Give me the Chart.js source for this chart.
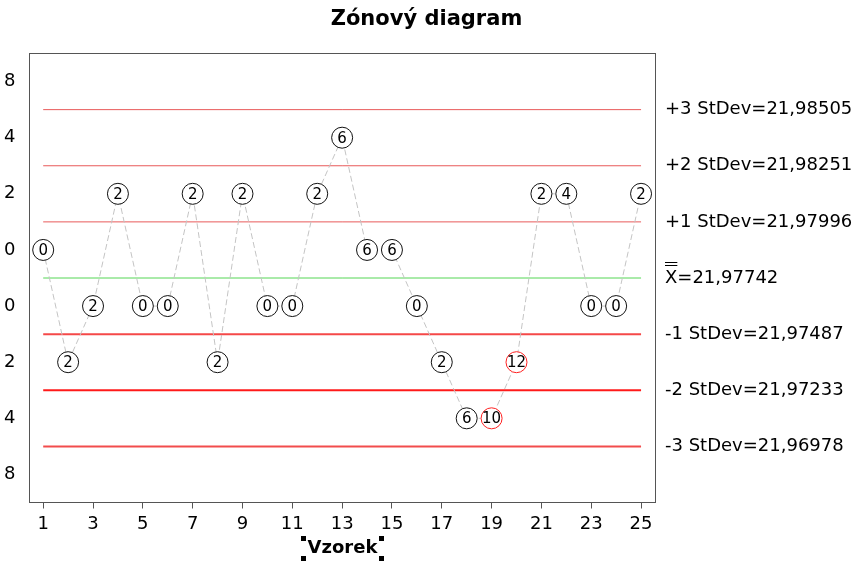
<!DOCTYPE html>
<html>
<head>
<meta charset="utf-8">
<script src="https://cdn.jsdelivr.net/npm/chart.js@4.4.1/dist/chart.umd.min.js"></script>
<style>
  html, body { margin: 0; padding: 0; background: #fff; }
  #wrap { width: 853px; height: 563px; }
</style>
</head>
<body>
<div id="wrap"><canvas id="c" width="853" height="563"></canvas></div>
<script>
// ---- data ----
const samples = [1,2,3,4,5,6,7,8,9,10,11,12,13,14,15,16,17,18,19,20,21,22,23,24,25];
// zone position of each sample (zone midpoints, in StDev units from centre)
const zonePos = [0.5,-1.5,-0.5,1.5,-0.5,-0.5,1.5,-1.5,1.5,-0.5,-0.5,1.5,2.5,0.5,0.5,-0.5,-1.5,-2.5,-2.5,-1.5,1.5,1.5,-0.5,-0.5,1.5];
// cumulative zone scores shown in circles
const scores = [0,2,2,2,0,0,2,2,2,0,0,2,6,6,6,0,2,6,10,12,2,4,0,0,2];
const alarmFlags = [0,0,0,0,0,0,0,0,0,0,0,0,0,0,0,0,0,0,1,1,0,0,0,0,0];
// zone boundary lines
const zoneLevels = [3, 2, 1, 0, -1, -2, -3];
const zoneNames = ['+3 StDev', '+2 StDev', '+1 StDev', 'XBAR', '-1 StDev', '-2 StDev', '-3 StDev'];
const zoneValues = ['21,98505', '21,98251', '21,97996', '21,97742', '21,97487', '21,97233', '21,96978'];
// y axis (zone weights)
const yTickValues = [3.5, 2.5, 1.5, 0.5, -0.5, -1.5, -2.5, -3.5];
const yTickLabels = ['8', '4', '2', '0', '0', '2', '4', '8'];
const xTickValues = [1,3,5,7,9,11,13,15,17,19,21,23,25];

const zoneColors = ['#e85a5a','#e85a5a','#e85a5a','#55d655','#f54848','#ff1a1a','#f24c4c'];
const zoneWidths = [1,1,1,1,2,2,2];

const FONT = "'DejaVu Sans', sans-serif";

const zoneDatasets = zoneLevels.map((lv, i) => ({
  type: 'line',
  data: [{x: samples[0], y: lv}, {x: samples[samples.length - 1], y: lv}],
  borderColor: zoneColors[i],
  borderWidth: zoneWidths[i],
  pointRadius: 0,
  order: 2
}));

const seriesDataset = {
  type: 'line',
  data: samples.map((s, i) => ({x: s, y: zonePos[i]})),
  borderColor: '#c4c4c4',
  borderWidth: 1,
  borderDash: [6, 3],
  pointRadius: 10.5,
  pointHoverRadius: 10.5,
  pointBackgroundColor: '#ffffff',
  pointBorderColor: alarmFlags.map(f => f ? '#ff2020' : '#111111'),
  pointBorderWidth: 1,
  order: 0
};

const overlay = {
  id: 'overlay',
  afterDraw(chart) {
    const ctx = chart.ctx;
    const ca = chart.chartArea;
    const ys = chart.scales.y;
    ctx.save();
    // frame
    ctx.strokeStyle = '#555555';
    ctx.lineWidth = 1;
    ctx.strokeRect(ca.left, ca.top, ca.right - ca.left, ca.bottom - ca.top);
    // scores inside circles
    const meta = chart.getDatasetMeta(chart.data.datasets.length - 1);
    ctx.font = '15px ' + FONT;
    ctx.fillStyle = '#000';
    ctx.textAlign = 'center';
    ctx.textBaseline = 'middle';
    meta.data.forEach((pt, i) => {
      ctx.fillText(String(scores[i]), pt.x, pt.y + 1);
    });
    // right side zone labels
    ctx.font = '18px ' + FONT;
    ctx.textAlign = 'left';
    ctx.fillStyle = '#000';
    const lx = ca.right + 9.5;
    zoneLevels.forEach((lv, i) => {
      const y = ys.getPixelForValue(lv);
      if (zoneNames[i] === 'XBAR') {
        ctx.fillText('X', lx, y);
        const w = ctx.measureText('X').width;
        ctx.fillRect(lx, y - 16, w, 1);
        ctx.fillRect(lx, y - 13, w, 1);
        ctx.fillText('=' + zoneValues[i], lx + w, y);
      } else {
        ctx.fillText(zoneNames[i] + '=' + zoneValues[i], lx, y);
      }
    });
    // selection handles around axis title
    const xs = chart.scales.x;
    ctx.font = 'bold 18px ' + FONT;
    const tw = ctx.measureText(xs.options.title.text).width;
    const cx = (ca.left + ca.right) / 2;
    const cy = 548;
    ctx.fillStyle = '#000';
    [[-1,-1],[1,-1],[-1,1],[1,1]].forEach(([sx, sy]) => {
      const hx = cx + sx * (tw / 2 + 4);
      const hy = cy + sy * 10;
      ctx.fillRect(Math.round(hx - 2.5), Math.round(hy - 2.5), 5, 5);
    });
    ctx.restore();
  }
};

new Chart(document.getElementById('c'), {
  type: 'line',
  data: { datasets: [...zoneDatasets, seriesDataset] },
  options: {
    responsive: false,
    animation: false,
    layout: { padding: 0 },
    plugins: {
      legend: { display: false },
      tooltip: { enabled: false },
      title: {
        display: true,
        text: 'Zónový diagram',
        color: '#000',
        font: { family: FONT, size: 21, weight: 'bold' },
        padding: { top: 7.4, bottom: 20.9 }
      }
    },
    scales: {
      x: {
        type: 'linear',
        min: 0.45,
        max: 25.58,
        afterBuildTicks: s => { s.ticks = xTickValues.map(v => ({ value: v })); },
        afterFit: s => { s.height = 60.5; },
        grid: { display: true, drawOnChartArea: false, drawTicks: true, tickLength: 6, color: '#555555' },
        border: { display: false },
        ticks: { color: '#000', font: { family: FONT, size: 18 }, padding: 5, maxRotation: 0, autoSkip: false },
        title: { display: true, text: 'Vzorek', color: '#000', font: { family: FONT, size: 18, weight: 'bold' }, padding: { top: 0, bottom: 4 } }
      },
      y: {
        type: 'linear',
        min: -4,
        max: 4,
        afterBuildTicks: s => { s.ticks = yTickValues.map(v => ({ value: v })); },
        afterFit: s => { s.width = 29.5; },
        grid: { display: false },
        border: { display: false },
        ticks: {
          color: '#000',
          font: { family: FONT, size: 18 },
          padding: 6,
          callback: (v) => { const k = yTickValues.indexOf(v); return k >= 0 ? yTickLabels[k] : ''; }
        }
      },
      yr: {
        type: 'linear',
        position: 'right',
        min: -4,
        max: 4,
        afterFit: s => { s.width = 197.5; },
        grid: { display: false },
        border: { display: false },
        ticks: { display: false }
      }
    }
  },
  plugins: [overlay]
});
</script>
</body>
</html>
